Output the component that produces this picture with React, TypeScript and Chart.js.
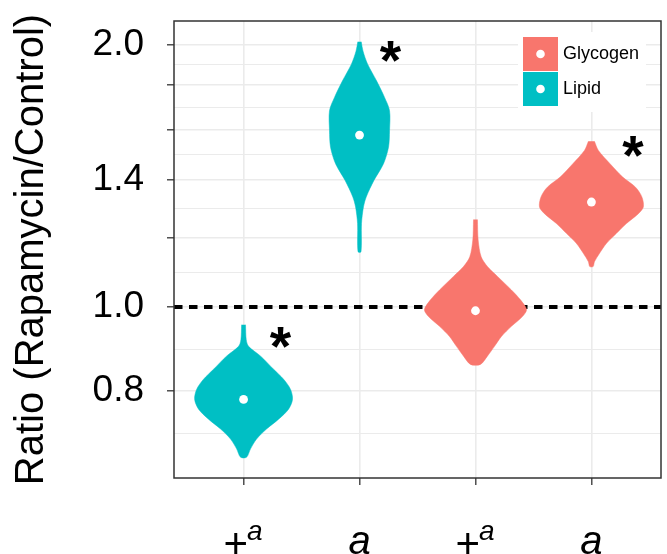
import React, { useEffect, useRef } from 'react';
import { Chart, registerables } from 'chart.js';

Chart.register(...registerables);

const FONT = '"Liberation Sans", Arial, Helvetica, sans-serif';

// ---- categories ----
const categoryPositions = [1, 2, 3, 4];
const tickMainText = ['+', 'a', '+', 'a'];
const tickMainItalic = [false, true, false, true];
const tickSupText = ['a', '', 'a', ''];
const categoryGroup = ['Lipid', 'Lipid', 'Glycogen', 'Glycogen'];

const legendLabels = ['Glycogen', 'Lipid'];
const legendColors = ['#F8766D', '#00BFC4'];

// ---- violin outlines: value levels (top -> bottom) and half-widths (category units) ----
const violinLevels1 = [0.954, 0.917, 0.901, 0.878, 0.848, 0.826, 0.804, 0.783, 0.763, 0.743, 0.724, 0.705, 0.687, 0.672];
const violinHalf1 = [0.017, 0.023, 0.043, 0.147, 0.259, 0.345, 0.405, 0.422, 0.388, 0.302, 0.198, 0.112, 0.06, 0.026];

const violinLevels2 = [2.017, 1.968, 1.901, 1.819, 1.741, 1.681, 1.595, 1.526, 1.461, 1.398, 1.338, 1.303, 1.247, 1.157];
const violinHalf2 = [0.015, 0.03, 0.07, 0.147, 0.216, 0.259, 0.259, 0.25, 0.207, 0.125, 0.058, 0.034, 0.017, 0.013];

const violinLevels3 = [1.26, 1.194, 1.142, 1.113, 1.084, 1.046, 1.019, 0.993, 0.975, 0.95, 0.925, 0.901, 0.878, 0.859];
const violinHalf3 = [0.017, 0.023, 0.049, 0.103, 0.19, 0.31, 0.388, 0.44, 0.405, 0.31, 0.224, 0.164, 0.103, 0.043];

const violinLevels4 = [1.55, 1.513, 1.461, 1.41, 1.373, 1.338, 1.303, 1.28, 1.247, 1.215, 1.183, 1.152, 1.127, 1.113];
const violinHalf4 = [0.026, 0.06, 0.16, 0.27, 0.38, 0.435, 0.448, 0.405, 0.302, 0.216, 0.129, 0.069, 0.026, 0.015];

const medians = [0.783, 1.576, 0.99, 1.32];

// significance markers
const asteriskX = [1.32, 2.27, 4.36];
const asteriskY = [0.922, 1.968, 1.529];

const referenceValue = 1.0;

// ---- axes ----
const xMin = 0.4;
const xMax = 4.6;
const yMin = 0.636;
const yMax = 2.131;
const yMajorTicks = [0.8, 1.0, 1.2, 1.4, 1.6, 1.8, 2.0];
const yLabeledTicks = [0.8, 1.0, 1.4, 2.0];
const yMinorTicks = [0.7155, 0.894, 1.095, 1.296, 1.497, 1.697, 1.897];
const yTitle = 'Ratio (Rapamycin/Control)';

const groupColor = (g: string) => legendColors[legendLabels.indexOf(g)];

function violinOutline(center: number, levels: number[], half: number[]) {
  const left = levels.map((v, i) => ({ x: center - half[i], y: v }));
  const right = levels.map((v, i) => ({ x: center + half[i], y: v })).reverse();
  return [...left, ...right];
}

const isMajor = (v: number) => yMajorTicks.some((m) => Math.abs(m - v) < 1e-6);
const isLabeled = (v: number) => yLabeledTicks.some((m) => Math.abs(m - v) < 1e-6);

const overlayPlugin = {
  id: 'overlay',
  afterDraw(chart: any) {
    const { ctx, chartArea, scales } = chart;
    const xs = scales.x;
    const ys = scales.y;
    ctx.save();

    // asterisks
    ctx.fillStyle = '#000';
    ctx.font = `bold 55px ${FONT}`;
    ctx.textAlign = 'left';
    ctx.textBaseline = 'alphabetic';
    const m = ctx.measureText('*');
    for (let i = 0; i < asteriskX.length; i++) {
      const px = xs.getPixelForValue(asteriskX[i]);
      const py = ys.getPixelForValue(asteriskY[i]);
      const x = px - (m.actualBoundingBoxRight - m.actualBoundingBoxLeft) / 2;
      const y = py + (m.actualBoundingBoxAscent - m.actualBoundingBoxDescent) / 2;
      ctx.fillText('*', x, y);
    }

    // legend
    const lx = chartArea.right - 138;
    const ly = chartArea.top + 16;
    ctx.fillStyle = '#fff';
    ctx.fillRect(lx - 5, ly - 5, 128, 80);
    for (let i = 0; i < legendLabels.length; i++) {
      const top = ly + i * 35;
      ctx.fillStyle = legendColors[i];
      ctx.fillRect(lx, top, 35, 34);
      ctx.fillStyle = '#fff';
      ctx.beginPath();
      ctx.arc(lx + 17.5, top + 17, 4.3, 0, Math.PI * 2);
      ctx.fill();
      ctx.fillStyle = '#000';
      ctx.font = `18px ${FONT}`;
      ctx.textBaseline = 'middle';
      ctx.fillText(legendLabels[i], lx + 40, top + 17.5);
    }

    // panel border
    ctx.strokeStyle = '#333';
    ctx.lineWidth = 1.5;
    ctx.strokeRect(chartArea.left, chartArea.top, chartArea.right - chartArea.left, chartArea.bottom - chartArea.top);

    // x tick labels
    ctx.fillStyle = '#000';
    ctx.textBaseline = 'alphabetic';
    for (let i = 0; i < categoryPositions.length; i++) {
      const cx = xs.getPixelForValue(categoryPositions[i]);
      const mainFont = tickMainItalic[i] ? `italic 40px ${FONT}` : `42px ${FONT}`;
      const supFont = `italic 28px ${FONT}`;
      ctx.font = mainFont;
      const mw = ctx.measureText(tickMainText[i]).width;
      ctx.font = supFont;
      const sw = tickSupText[i] ? ctx.measureText(tickSupText[i]).width : 0;
      const start = cx - (mw + sw) / 2;
      ctx.font = mainFont;
      ctx.fillText(tickMainText[i], start, tickMainItalic[i] ? 554 : 558);
      if (tickSupText[i]) {
        ctx.font = supFont;
        ctx.fillText(tickSupText[i], start + mw - 1, 540);
      }
    }
    ctx.restore();
  },
};

export default function App() {
  const ref = useRef<HTMLCanvasElement>(null);
  useEffect(() => {
    document.body.style.margin = '0';
    const canvas = ref.current!;
    const levels = [violinLevels1, violinLevels2, violinLevels3, violinLevels4];
    const halves = [violinHalf1, violinHalf2, violinHalf3, violinHalf4];
    const violinSets = categoryPositions.map((c, i) => {
      const col = groupColor(categoryGroup[i]);
      return {
        type: 'line',
        data: violinOutline(c, levels[i], halves[i]),
        fill: 'shape',
        backgroundColor: col,
        borderColor: col,
        borderWidth: 0.5,
        pointRadius: 0,
        tension: 0.3,
        order: 1,
      };
    });
    const chart = new Chart(canvas, {
      type: 'line',
      data: {
        datasets: [
          {
            type: 'line',
            data: categoryPositions.map((x, i) => ({ x, y: medians[i] })),
            showLine: false,
            pointRadius: 4.4,
            pointBackgroundColor: '#fff',
            pointBorderWidth: 0,
            order: 0,
          },
          ...violinSets,
          {
            type: 'line',
            data: [
              { x: xMin, y: referenceValue },
              { x: xMax, y: referenceValue },
            ],
            borderColor: '#000',
            borderWidth: 4,
            borderDash: [8.5, 6.5],
            pointRadius: 0,
            fill: false,
            order: 2,
          },
        ] as any,
      },
      options: {
        animation: false,
        responsive: false,
        layout: { padding: { top: 21, right: 6, left: 0, bottom: 0 }, autoPadding: false },
        plugins: { legend: { display: false }, tooltip: { enabled: false } },
        scales: {
          x: {
            type: 'linear',
            min: xMin,
            max: xMax,
            bounds: 'data',
            afterBuildTicks: (s: any) => {
              s.ticks = categoryPositions.map((v) => ({ value: v }));
            },
            afterFit: (s: any) => {
              s.height = 76;
              s.paddingLeft = 0;
              s.paddingRight = 0;
            },
            ticks: { display: false },
            grid: {
              color: '#EBEBEB',
              lineWidth: 1.6,
              tickColor: '#333',
              tickLength: 7,
              tickWidth: 1.3,
            },
            border: { display: false },
          },
          y: {
            type: 'logarithmic',
            min: yMin,
            max: yMax,
            bounds: 'data',
            afterBuildTicks: (s: any) => {
              const all = [...yMajorTicks, ...yMinorTicks].sort((a, b) => a - b);
              s.ticks = all.map((v) => ({ value: v, major: false }));
            },
            afterDataLimits: (s: any) => {
              s.min = yMin;
              s.max = yMax;
            },
            afterFit: (s: any) => {
              s.width = 174;
              s.paddingTop = 0;
              s.paddingBottom = 0;
            },
            ticks: {
              autoSkip: false,
              padding: 23,
              color: '#000',
              font: { family: FONT, size: 37 },
              callback: (v: any) => (isLabeled(Number(v)) ? Number(v).toFixed(1) : ''),
            },
            grid: {
              color: '#EBEBEB',
              lineWidth: (c: any) => (c.tick && isMajor(c.tick.value) ? 1.6 : 1),
              tickColor: (c: any) => (c.tick && isMajor(c.tick.value) ? '#333' : 'rgba(0,0,0,0)'),
              tickLength: 7,
              tickWidth: 1.3,
            },
            border: { display: false },
            title: {
              display: true,
              text: yTitle,
              color: '#000',
              font: { family: FONT, size: 40 },
              padding: { top: 8, bottom: 0 },
            },
          },
        },
      },
      plugins: [overlayPlugin],
    } as any);
    return () => chart.destroy();
  }, []);
  return (
    <canvas ref={ref} width={667} height={554} style={{ display: 'block', width: 667, height: 554 }} />
  );
}
